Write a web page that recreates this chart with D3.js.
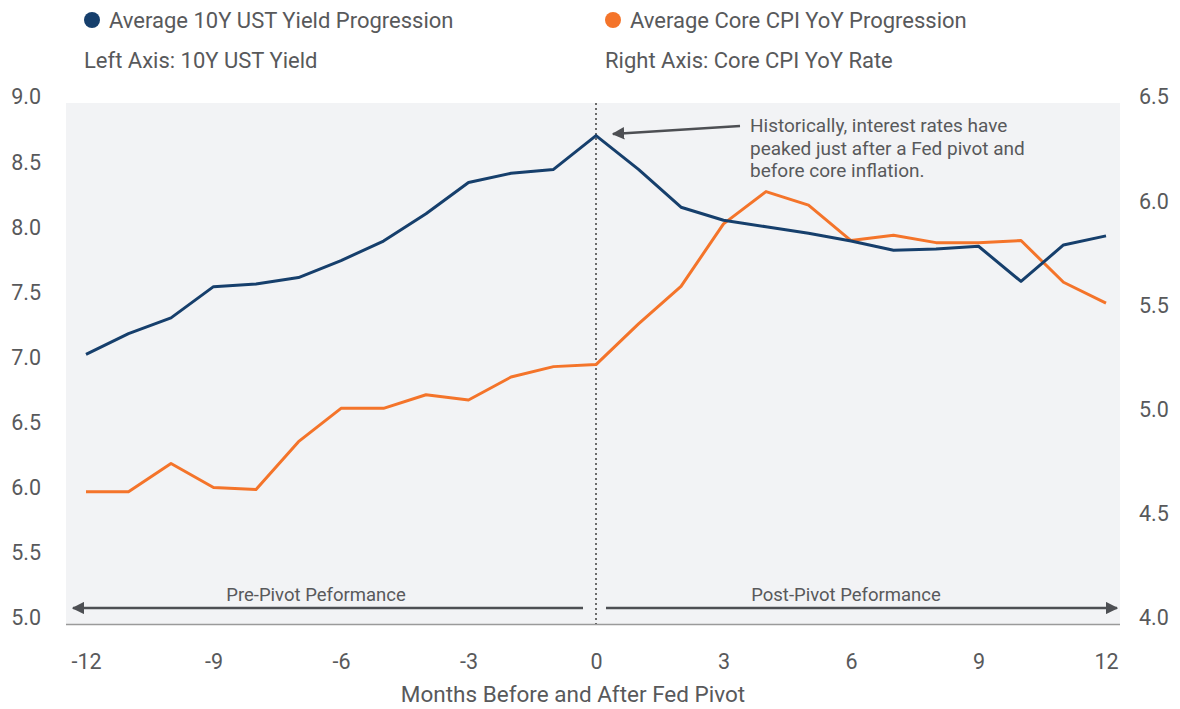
<!DOCTYPE html>
<html>
<head>
<meta charset="utf-8">
<script src="https://cdn.jsdelivr.net/npm/d3@7"></script>
<style>
  body { margin: 0; background: #fff; }
  svg text { font-family: Roboto, "Liberation Sans", sans-serif; fill: #58595b; }
</style>
</head>
<body>
<script>
// months relative to the Fed pivot
var months = d3.range(-12, 13);

var ustYield = [7.07, 7.23, 7.35, 7.59, 7.61, 7.66, 7.79, 7.94, 8.15, 8.39, 8.46, 8.49, 8.75,
                8.49, 8.20, 8.10, 8.05, 8.00, 7.94, 7.87, 7.88, 7.90, 7.63, 7.91, 7.98];

var coreCpi = [4.635, 4.635, 4.77, 4.655, 4.645, 4.875, 5.035, 5.035, 5.10, 5.075, 5.185, 5.235, 5.245,
               5.44, 5.62, 5.92, 6.075, 6.01, 5.84, 5.865, 5.83, 5.83, 5.84, 5.64, 5.54];

var leftTicks = [5.0, 5.5, 6.0, 6.5, 7.0, 7.5, 8.0, 8.5, 9.0];
var rightTicks = [4.0, 4.5, 5.0, 5.5, 6.0, 6.5];
var xTicks = [-12, -9, -6, -3, 0, 3, 6, 9, 12];

var noteLines = ["Historically, interest rates have",
                 "peaked just after a Fed pivot and",
                 "before core inflation."];

var navy = "#163f6c",
    orange = "#f4742a",
    grey = "#58595b";

var width = 1180, height = 709,
    plotLeft = 66, plotRight = 1120,
    plotTop = 103, plotBottom = 624;

var svg = d3.select("body").append("svg")
    .attr("width", width)
    .attr("height", height);

var x = d3.scaleLinear().domain([-12, 12]).range([86, 1106]);
var yLeft = d3.scaleLinear().domain([5, 9]).range([plotBottom, plotTop]);
var yRight = d3.scaleLinear().domain([4, 6.5]).range([plotBottom, plotTop]);

var defs = svg.append("defs");
defs.append("marker")
    .attr("id", "head")
    .attr("viewBox", "0 0 10 10")
    .attr("refX", 9).attr("refY", 5)
    .attr("markerWidth", 5).attr("markerHeight", 5)
    .attr("markerUnits", "strokeWidth")
    .attr("orient", "auto-start-reverse")
  .append("path")
    .attr("d", "M0,0 L10,5 L0,10 z")
    .attr("fill", "#4d4f53");

// plot background
svg.append("rect")
    .attr("x", plotLeft)
    .attr("y", plotTop)
    .attr("width", plotRight - plotLeft)
    .attr("height", plotBottom - plotTop)
    .attr("fill", "#f2f3f5");

svg.append("line")
    .attr("x1", plotLeft).attr("x2", plotRight)
    .attr("y1", plotBottom + 0.5).attr("y2", plotBottom + 0.5)
    .attr("stroke", "#9a9a9a")
    .attr("stroke-width", 1.5);

// pivot marker
svg.append("line")
    .attr("x1", x(0)).attr("x2", x(0))
    .attr("y1", plotTop).attr("y2", plotBottom)
    .attr("stroke", "#6b6b6b")
    .attr("stroke-width", 2)
    .attr("stroke-dasharray", "2,3");

// axes
var leftAxis = d3.axisLeft(yLeft)
    .tickValues(leftTicks)
    .tickFormat(d3.format(".1f"))
    .tickSize(0).tickPadding(0);
var gl = svg.append("g")
    .attr("transform", "translate(41,0)")
    .call(leftAxis);

var rightAxis = d3.axisRight(yRight)
    .tickValues(rightTicks)
    .tickFormat(d3.format(".1f"))
    .tickSize(0).tickPadding(0);
var gr = svg.append("g")
    .attr("transform", "translate(1139,0)")
    .call(rightAxis);

var bottomAxis = d3.axisBottom(x)
    .tickValues(xTicks)
    .tickFormat(function(d) { return String(d); })
    .tickSize(0).tickPadding(0);
var gb = svg.append("g")
    .attr("transform", "translate(0,654)")
    .call(bottomAxis);

[gl, gr, gb].forEach(function(g) {
    g.select(".domain").remove();
    g.selectAll("text")
        .attr("fill", grey)
        .style("font-size", "21.5px");
});
gl.selectAll("text").attr("dy", "0.04em");
gr.selectAll("text").attr("dy", "0.04em");
gb.selectAll("text").attr("dy", "0.71em");

svg.append("text")
    .attr("x", 573)
    .attr("y", 702)
    .attr("text-anchor", "middle")
    .style("font-size", "22.5px")
    .text("Months Before and After Fed Pivot");

// series lines
var lineLeft = d3.line()
    .x(function(d, i) { return x(months[i]); })
    .y(function(d) { return yLeft(d); });
var lineRight = d3.line()
    .x(function(d, i) { return x(months[i]); })
    .y(function(d) { return yRight(d); });

svg.append("path")
    .datum(coreCpi)
    .attr("d", lineRight)
    .attr("fill", "none")
    .attr("stroke", orange)
    .attr("stroke-width", 3)
    .attr("stroke-linejoin", "round");

svg.append("path")
    .datum(ustYield)
    .attr("d", lineLeft)
    .attr("fill", "none")
    .attr("stroke", navy)
    .attr("stroke-width", 3)
    .attr("stroke-linejoin", "round");

// pre / post pivot arrows
svg.append("line")
    .attr("x1", 583).attr("x2", 73)
    .attr("y1", 608).attr("y2", 608)
    .attr("stroke", "#4d4f53")
    .attr("stroke-width", 2.5)
    .attr("marker-end", "url(#head)");
svg.append("line")
    .attr("x1", 606).attr("x2", 1117)
    .attr("y1", 608).attr("y2", 608)
    .attr("stroke", "#4d4f53")
    .attr("stroke-width", 2.5)
    .attr("marker-end", "url(#head)");

svg.append("text")
    .attr("x", 316).attr("y", 601)
    .attr("text-anchor", "middle")
    .style("font-size", "18.5px")
    .text("Pre-Pivot Peformance");
svg.append("text")
    .attr("x", 846).attr("y", 601)
    .attr("text-anchor", "middle")
    .style("font-size", "18.5px")
    .text("Post-Pivot Peformance");

// annotation
svg.append("line")
    .attr("x1", 740).attr("y1", 126)
    .attr("x2", 613).attr("y2", 134)
    .attr("stroke", "#4d4f53")
    .attr("stroke-width", 2.5)
    .attr("marker-end", "url(#head)");

svg.append("g").selectAll("text")
    .data(noteLines)
    .enter()
    .append("text")
    .attr("x", 750)
    .attr("y", function(d, i) { return 132 + i * 22.5; })
    .style("font-size", "19px")
    .text(function(d) { return d; });

// legend
var legend = [
    {label: "Average 10Y UST Yield Progression", sub: "Left Axis: 10Y UST Yield", color: navy, x: 84},
    {label: "Average Core CPI YoY Progression", sub: "Right Axis: Core CPI YoY Rate", color: orange, x: 605}
];

var lg = svg.selectAll(".legend")
    .data(legend)
    .enter()
    .append("g")
    .attr("class", "legend");
lg.append("circle")
    .attr("cx", function(d) { return d.x + 8; })
    .attr("cy", 20)
    .attr("r", 8)
    .attr("fill", function(d) { return d.color; });
lg.append("text")
    .attr("x", function(d) { return d.x + 25; })
    .attr("y", 28)
    .style("font-size", "22px")
    .text(function(d) { return d.label; });
lg.append("text")
    .attr("x", function(d) { return d.x; })
    .attr("y", 68)
    .style("font-size", "22px")
    .text(function(d) { return d.sub; });
</script>
</body>
</html>
